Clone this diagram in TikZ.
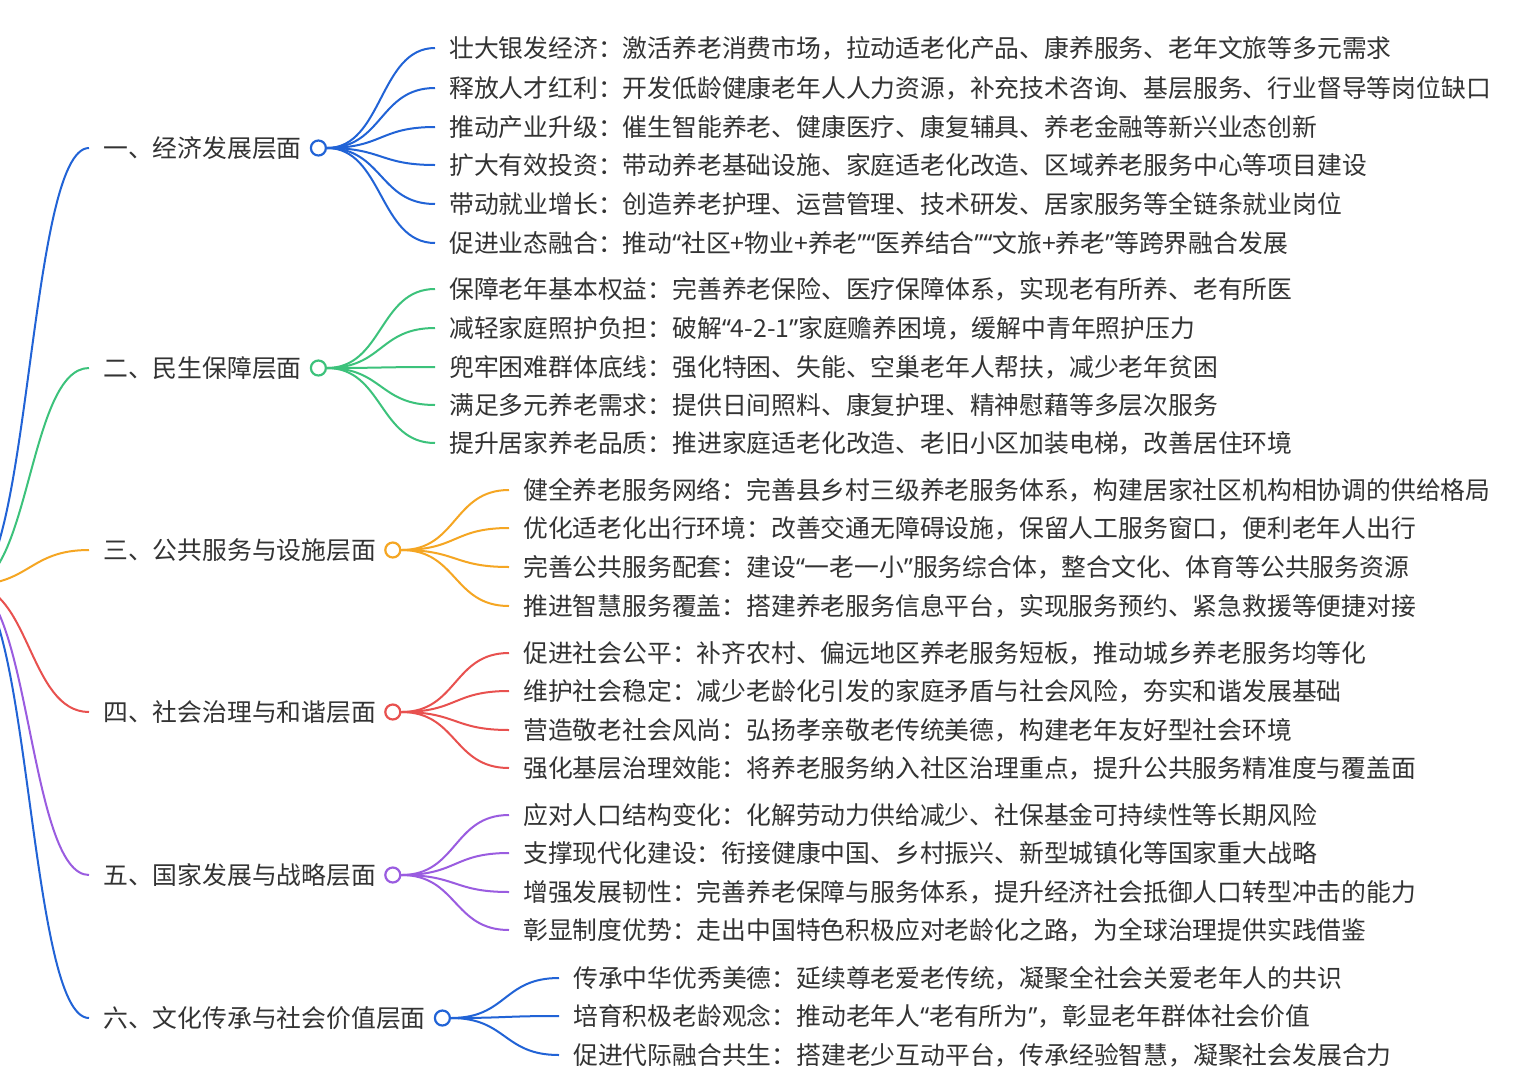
\documentclass[tikz,border=0pt]{standalone}
\usepackage{fontspec}
\setmainfont{Noto Sans CJK SC}
\newfontfamily\qf{Noto Sans}
\newcommand{\qo}{{\qf “}}
\newcommand{\qc}{{\qf ”}}
\definecolor{txt}{HTML}{333333}
\definecolor{cb}{HTML}{2163D6}
\definecolor{cg}{HTML}{3CC27B}
\definecolor{co}{HTML}{F5A623}
\definecolor{cr}{HTML}{E8514F}
\definecolor{cp}{HTML}{9A5CE0}
\newcommand{\fsz}{\fontsize{24.8pt}{30pt}\selectfont}
\tikzset{
  catnode/.style={anchor=west, inner xsep=14pt, inner ysep=0pt, text=txt, font=\fsz, text height=19.4pt, text depth=0.6pt},
  leafnode/.style={anchor=west, inner xsep=14pt, inner ysep=0pt, text=txt, font=\fsz, text height=19.4pt, text depth=0.6pt},
  dotnode/.style={circle, draw=#1, fill=white, line width=2.2pt, minimum size=15pt, inner sep=0pt, anchor=west},
  link/.style={draw=#1, line width=2pt},
  rootlink/.style={draw=#1, line width=2pt},
}
\begin{document}
\begin{tikzpicture}[x=1pt,y=-1pt]
\useasboundingbox (0,0) rectangle (1516,1080);
\clip (0,0) rectangle (1516,1080);
\fill[white] (0,0) rectangle (1516,1080);
\coordinate (root) at (-30,585);

% categories
\node[catnode] (c1) at (89,148) {一、经济发展层面};
\node[catnode] (c2) at (89,368) {二、民生保障层面};
\node[catnode] (c3) at (89,550) {三、公共服务与设施层面};
\node[catnode] (c4) at (89,712) {四、社会治理与和谐层面};
\node[catnode] (c5) at (89,875) {五、国家发展与战略层面};
\node[catnode] (c6) at (89,1018) {六、文化传承与社会价值层面};

\draw[rootlink=cb] (root) .. controls +(60,0) and +(-60,0) .. (c1.west);
\draw[rootlink=cg] (root) .. controls +(60,0) and +(-60,0) .. (c2.west);
\draw[rootlink=co] (root) .. controls +(60,0) and +(-60,0) .. (c3.west);
\draw[rootlink=cr] (root) .. controls +(60,0) and +(-60,0) .. (c4.west);
\draw[rootlink=cp] (root) .. controls +(60,0) and +(-60,0) .. (c5.west);
\draw[rootlink=cb] (root) .. controls +(60,0) and +(-60,0) .. (c6.west);

% dots
\node[dotnode=cb] (d1) at ([xshift=-6pt]c1.east) {};
\node[dotnode=cg] (d2) at ([xshift=-6pt]c2.east) {};
\node[dotnode=co] (d3) at ([xshift=-6pt]c3.east) {};
\node[dotnode=cr] (d4) at ([xshift=-6pt]c4.east) {};
\node[dotnode=cp] (d5) at ([xshift=-6pt]c5.east) {};
\node[dotnode=cb] (d6) at ([xshift=-6pt]c6.east) {};

% leaves cat1
\node[leafnode] (l11) at (435,48) {壮大银发经济：激活养老消费市场，拉动适老化产品、康养服务、老年文旅等多元需求};
\node[leafnode] (l12) at (435,88) {释放人才红利：开发低龄健康老年人人力资源，补充技术咨询、基层服务、行业督导等岗位缺口};
\node[leafnode] (l13) at (435,127) {推动产业升级：催生智能养老、健康医疗、康复辅具、养老金融等新兴业态创新};
\node[leafnode] (l14) at (435,165) {扩大有效投资：带动养老基础设施、家庭适老化改造、区域养老服务中心等项目建设};
\node[leafnode] (l15) at (435,204) {带动就业增长：创造养老护理、运营管理、技术研发、居家服务等全链条就业岗位};
\node[leafnode] (l16) at (435,243) {促进业态融合：推动\qo 社区+物业+养老\qc\qo 医养结合\qc\qo 文旅+养老\qc 等跨界融合发展};
% cat2
\node[leafnode] (l21) at (435,289) {保障老年基本权益：完善养老保险、医疗保障体系，实现老有所养、老有所医};
\node[leafnode] (l22) at (435,328) {减轻家庭照护负担：破解\qo 4-2-1\qc 家庭赡养困境，缓解中青年照护压力};
\node[leafnode] (l23) at (435,367) {兜牢困难群体底线：强化特困、失能、空巢老年人帮扶，减少老年贫困};
\node[leafnode] (l24) at (435,405) {满足多元养老需求：提供日间照料、康复护理、精神慰藉等多层次服务};
\node[leafnode] (l25) at (435,443) {提升居家养老品质：推进家庭适老化改造、老旧小区加装电梯，改善居住环境};
% cat3
\node[leafnode] (l31) at (509,490) {健全养老服务网络：完善县乡村三级养老服务体系，构建居家社区机构相协调的供给格局};
\node[leafnode] (l32) at (509,528) {优化适老化出行环境：改善交通无障碍设施，保留人工服务窗口，便利老年人出行};
\node[leafnode] (l33) at (509,567) {完善公共服务配套：建设\qo 一老一小\qc 服务综合体，整合文化、体育等公共服务资源};
\node[leafnode] (l34) at (509,606) {推进智慧服务覆盖：搭建养老服务信息平台，实现服务预约、紧急救援等便捷对接};
% cat4
\node[leafnode] (l41) at (509,653) {促进社会公平：补齐农村、偏远地区养老服务短板，推动城乡养老服务均等化};
\node[leafnode] (l42) at (509,691) {维护社会稳定：减少老龄化引发的家庭矛盾与社会风险，夯实和谐发展基础};
\node[leafnode] (l43) at (509,730) {营造敬老社会风尚：弘扬孝亲敬老传统美德，构建老年友好型社会环境};
\node[leafnode] (l44) at (509,768) {强化基层治理效能：将养老服务纳入社区治理重点，提升公共服务精准度与覆盖面};
% cat5
\node[leafnode] (l51) at (509,815) {应对人口结构变化：化解劳动力供给减少、社保基金可持续性等长期风险};
\node[leafnode] (l52) at (509,853) {支撑现代化建设：衔接健康中国、乡村振兴、新型城镇化等国家重大战略};
\node[leafnode] (l53) at (509,892) {增强发展韧性：完善养老保障与服务体系，提升经济社会抵御人口转型冲击的能力};
\node[leafnode] (l54) at (509,930) {彰显制度优势：走出中国特色积极应对老龄化之路，为全球治理提供实践借鉴};
% cat6
\node[leafnode] (l61) at (559,978) {传承中华优秀美德：延续尊老爱老传统，凝聚全社会关爱老年人的共识};
\node[leafnode] (l62) at (559,1016) {培育积极老龄观念：推动老年人\qo 老有所为\qc ，彰显老年群体社会价值};
\node[leafnode] (l63) at (559,1055) {促进代际融合共生：搭建老少互动平台，传承经验智慧，凝聚社会发展合力};

% leaf links
\foreach \i in {1,...,6} \draw[link=cb] (d1.east) .. controls +(56,0) and +(-56,0) .. (l1\i.west);
\foreach \i in {1,...,5} \draw[link=cg] (d2.east) .. controls +(56,0) and +(-56,0) .. (l2\i.west);
\foreach \i in {1,...,4} \draw[link=co] (d3.east) .. controls +(56,0) and +(-56,0) .. (l3\i.west);
\foreach \i in {1,...,4} \draw[link=cr] (d4.east) .. controls +(56,0) and +(-56,0) .. (l4\i.west);
\foreach \i in {1,...,4} \draw[link=cp] (d5.east) .. controls +(56,0) and +(-56,0) .. (l5\i.west);
\foreach \i in {1,...,3} \draw[link=cb] (d6.east) .. controls +(56,0) and +(-56,0) .. (l6\i.west);
\end{tikzpicture}
\end{document}
